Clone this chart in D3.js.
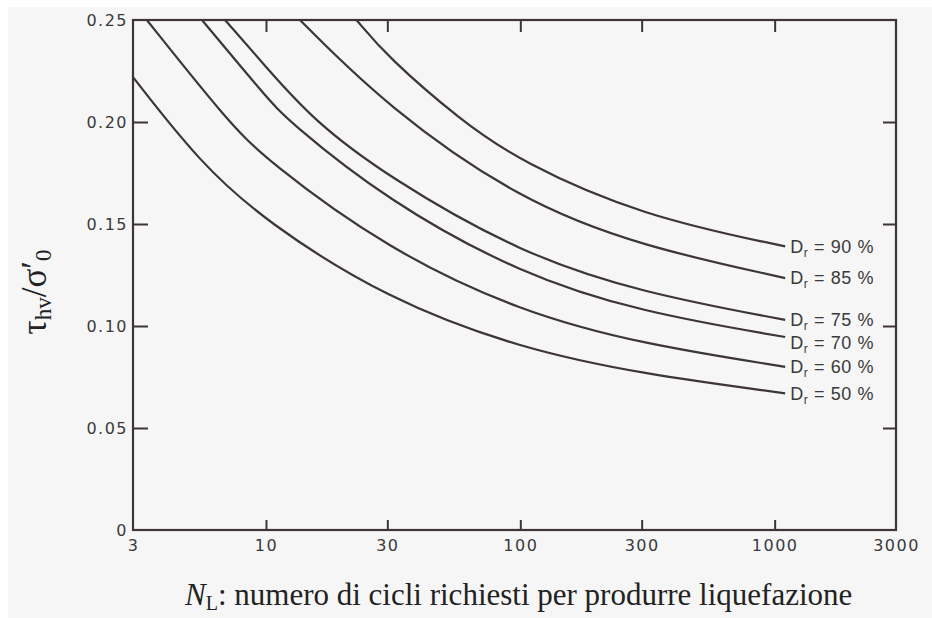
<!DOCTYPE html>
<html>
<head>
<meta charset="utf-8">
<script src="https://cdn.jsdelivr.net/npm/d3@7"></script>
<style>
  html, body { margin: 0; padding: 0; background: #fff; }
  svg { display: block; }
  .tick text { font-family: "DejaVu Sans", sans-serif; font-size: 16px; fill: #3a3a3a; letter-spacing: 1.5px; }
  .tick line { stroke: #3d3538; stroke-width: 2; }
</style>
</head>
<body>
<svg id="chart" width="932" height="618"></svg>
<script>
// tick values
const xTicks = [3, 10, 30, 100, 300, 1000, 3000]
const yTicks = [0, 0.05, 0.10, 0.15, 0.20, 0.25]

// relative density labels
const densities = [90, 85, 75, 70, 60, 50]

// curves: [N cycles, tau/sigma'0]
const dr90 = [[22.7, 0.25], [30, 0.232], [58, 0.201], [100, 0.1805], [300, 0.154], [1100, 0.139]]
const dr85 = [[13.6, 0.25], [30, 0.2072], [100, 0.1614], [300, 0.139], [1100, 0.1235]]
const dr75 = [[6.9, 0.25], [10, 0.227], [15.3, 0.201], [30, 0.1732], [100, 0.1356], [300, 0.1163], [1100, 0.103]]
const dr70 = [[5.6, 0.25], [10, 0.2124], [12.1, 0.201], [30, 0.1614], [100, 0.1255], [300, 0.1067], [1100, 0.0946]]
const dr60 = [[3.4, 0.25], [7, 0.201], [10, 0.1814], [30, 0.1376], [100, 0.107], [300, 0.0912], [1100, 0.080]]
const dr50 = [[3, 0.222], [5.5, 0.180], [10, 0.151], [30, 0.1131], [100, 0.089], [300, 0.0765], [1100, 0.067]]

const curves = [dr90, dr85, dr75, dr70, dr60, dr50]

const svg = d3.select("#chart")
const width = +svg.attr("width"), height = +svg.attr("height")
const margin = {top: 20, right: 36, bottom: 88, left: 133}
const ink = "#3d3538"

// scanned-paper background
svg.append("rect").attr("width", width).attr("height", height).attr("fill", "#f6f6f6")
svg.append("rect").attr("width", width).attr("height", 7).attr("fill", "#fff")
svg.append("rect").attr("width", 8).attr("height", height).attr("fill", "#fff")

const x = d3.scaleLog()
  .domain([3, 3000])
  .range([margin.left, width - margin.right])

const y = d3.scaleLinear()
  .domain([0, 0.25])
  .range([height - margin.bottom, margin.top])

// axes
svg.append("g")
  .attr("transform", "translate(0," + (height - margin.bottom) + ")")
  .call(d3.axisBottom(x).tickValues(xTicks).tickFormat(d3.format("d")).tickSize(-10).tickSizeOuter(0).tickPadding(10))
  .call(g => g.select(".domain").remove())
  .call(g => g.selectAll(".tick").filter(d => d === 3 || d === 3000).select("line").remove())

svg.append("g")
  .attr("transform", "translate(" + margin.left + ",0)")
  .call(d3.axisLeft(y).tickValues(yTicks).tickFormat(d => d === 0 ? "0" : d3.format(".2f")(d)).tickSize(-15).tickSizeOuter(0).tickPadding(5))
  .call(g => g.select(".domain").remove())
  .call(g => g.selectAll(".tick").filter(d => d === 0 || d === 0.25).select("line").remove())

svg.append("g")
  .attr("transform", "translate(0," + margin.top + ")")
  .call(d3.axisTop(x).tickValues(xTicks.slice(1, -1)).tickFormat("").tickSize(-12).tickSizeOuter(0))
  .call(g => g.select(".domain").remove())

svg.append("g")
  .attr("transform", "translate(" + (width - margin.right) + ",0)")
  .call(d3.axisRight(y).tickValues(yTicks.slice(1, -1)).tickFormat("").tickSize(-13).tickSizeOuter(0))
  .call(g => g.select(".domain").remove())

// frame
svg.append("rect")
  .attr("x", margin.left)
  .attr("y", margin.top)
  .attr("width", width - margin.right - margin.left)
  .attr("height", height - margin.bottom - margin.top)
  .attr("fill", "none")
  .attr("stroke", ink)
  .attr("stroke-width", 2.2)

// curves (B-spline smooths out small reading errors)
const line = d3.line()
  .x(d => x(d[0]))
  .y(d => y(d[1]))
  .curve(d3.curveBasis)

svg.append("g")
  .selectAll("path")
  .data(curves)
  .join("path")
  .attr("d", line)
  .attr("fill", "none")
  .attr("stroke", ink)
  .attr("stroke-width", 2.2)

// end labels, nudged apart so they don't collide
let lastY = -Infinity
const labelY = curves.map(c => {
  let ly = y(c[c.length - 1][1])
  if (ly - lastY < 23) ly = lastY + 23
  lastY = ly
  return ly
})

const labels = svg.append("g")
  .attr("font-family", "'Liberation Sans', sans-serif")
  .attr("font-size", 18)
  .attr("fill", "#3a3a3a")
  .selectAll("text")
  .data(densities)
  .join("text")
  .attr("x", (d, i) => x(curves[i][curves[i].length - 1][0]) + 5)
  .attr("y", (d, i) => labelY[i])
  .attr("dy", "0.35em")
  .attr("letter-spacing", 0.6)

labels.append("tspan").text("D")
labels.append("tspan").attr("font-size", 12).attr("dy", 4).text("r")
labels.append("tspan").attr("dy", -4).text(d => " = " + d + " %")

// axis titles
const xt = svg.append("text")
  .attr("x", 185)
  .attr("y", 605)
  .attr("font-family", "'Liberation Serif', serif")
  .attr("font-size", 31)
  .attr("fill", "#222")
xt.append("tspan").attr("font-style", "italic").text("N")
xt.append("tspan").attr("font-size", 20).attr("dy", 5).text("L")
xt.append("tspan").attr("dy", -5).text(": numero di cicli richiesti per produrre liquefazione")

const yt = svg.append("text")
  .attr("transform", "translate(46,292) rotate(-90)")
  .attr("text-anchor", "middle")
  .attr("font-family", "'Liberation Serif', serif")
  .attr("font-size", 35)
  .attr("fill", "#222")
yt.append("tspan").text("τ")
yt.append("tspan").attr("font-size", 23).attr("dy", 5).text("hv")
yt.append("tspan").attr("dy", -5).text("/σ′")
yt.append("tspan").attr("font-size", 23).attr("dy", 5).text("0")
</script>
</body>
</html>
